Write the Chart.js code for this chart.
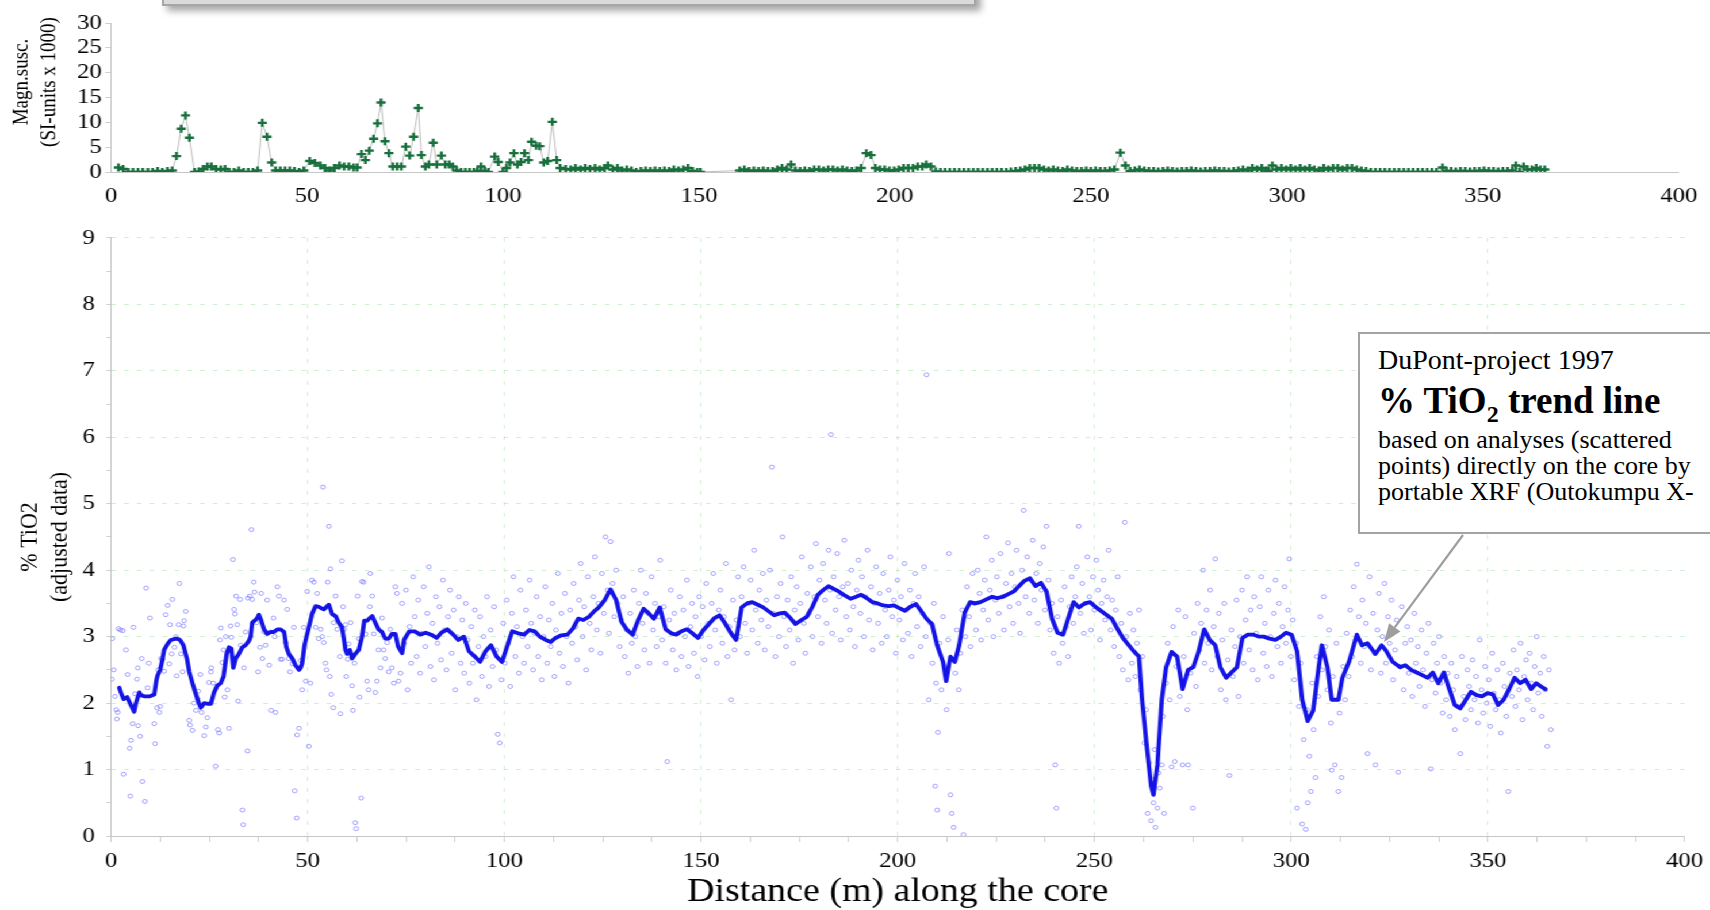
<!DOCTYPE html>
<html>
<head>
<meta charset="utf-8">
<title>DuPont-project 1997 – % TiO2 along the core</title>
<script src="https://cdn.jsdelivr.net/npm/chart.js@4.4.1/dist/chart.umd.min.js"></script>
<style>
  html, body { margin: 0; padding: 0; background: #fff; }
  body { width: 1710px; height: 910px; overflow: hidden; position: relative;
         font-family: "Liberation Serif", "Times New Roman", serif; }
  /* plot layer is drawn narrow and widened horizontally */
  #plots { position: absolute; left: 0; top: 0; width: 1487px; height: 910px;
           transform: scaleX(1.15); transform-origin: 0 0; }
  #magChart { position: absolute; left: 0; top: 0; }
  #tioChart { position: absolute; left: 0; top: 215px; }
  #topBox { position: absolute; left: 162px; top: -70px; width: 810px; height: 72px;
            background: #dadada; border: 2px solid #a6a6a6;
            box-shadow: 5px 5px 7px rgba(0,0,0,0.35); }
  #note { position: absolute; left: 1358px; top: 332px; width: 400px; height: 198px;
          background: #fff; border: 2px solid #a3a3a3; }
  #note .ln { position: absolute; left: 18px; white-space: nowrap; color: #000;
              font-size: 26px; line-height: 26px; }
  #note .head { font-size: 28px; line-height: 28px; }
  #note .big { font-weight: bold; font-size: 37px; line-height: 37px; }
  #note .sub { font-size: 24px; position: relative; top: 9px; }
  #arrow { position: absolute; left: 0; top: 0; width: 1710px; height: 910px; pointer-events: none; }
</style>
</head>
<body>
<div id="plots">
  <canvas id="magChart" width="1487" height="215"></canvas>
  <canvas id="tioChart" width="1487" height="695"></canvas>
</div>
<div id="topBox"></div>
<svg id="arrow" viewBox="0 0 1710 910">
  <line id="arrowLine" stroke="#9e9e9e" stroke-width="2.2"></line>
  <polygon id="arrowHead" fill="#9e9e9e"></polygon>
</svg>
<div id="note">
  <div class="ln head" style="top:11.5px">DuPont-project 1997</div>
  <div class="ln big" style="top:48px">% TiO<span class="sub">2</span> trend line</div>
  <div class="ln" style="top:93px">based on analyses (scattered</div>
  <div class="ln" style="top:119px">points) directly on the core by</div>
  <div class="ln" style="top:145px">portable XRF (Outokumpu X-</div>
</div>

<script>
// Magnetic susceptibility readings: [distance m, SI-units x 1000]
const magReadings = [
  [1.9,0.9],[3.1,0.6],[4.4,0],[5.6,0],[6.9,0],[8.1,0],[9.4,0],[10.6,0],[11.9,0.2],[13.1,0],[14.4,0.2],[15.6,0.3],
  [16.7,3.2],[17.9,8.7],[19.0,11.4],[20.0,6.9],[21.3,0],[22.4,0.1],[23.5,0.6],[24.6,1.1],[25.6,1.1],[26.8,0.6],
  [28.0,0.5],[29.1,0.6],[30.2,0],[31.4,0],[32.6,0.3],[33.8,0],[35.0,0],[36.2,0],[37.4,0.3],[38.6,9.9],[39.8,7.1],
  [41.0,1.9],[42.0,0.3],[43.2,0.3],[44.4,0.3],[45.6,0.3],[46.8,0.2],[48.0,0],[49.2,0.3],[50.7,2.2],[52.0,1.8],
  [53.4,1.3],[54.6,0.8],[55.8,0.3],[57.0,0.8],[58.3,1.3],[59.5,1.1],[60.7,1.1],[61.9,0.9],[62.8,0.9],[63.9,3.6],
  [64.9,2.4],[65.9,4.3],[67.0,6.7],[68.0,9.8],[68.9,14.0],[69.9,6.2],[70.9,3.8],[71.9,1.1],[73.0,1.1],[74.1,1.1],
  [75.2,5.1],[76.2,3.3],[77.2,7.1],[78.4,12.9],[79.2,3.4],[80.2,1.1],[81.1,1.5],[82.2,5.9],[83.1,1.5],[84.3,3.3],
  [85.3,1.5],[86.3,1.5],[87.2,1.1],[88.2,0.3],[89.3,0],[90.4,0],[91.5,0],[92.6,0],[93.5,0.2],[94.4,1.1],[95.4,0.2],
  [96.3,0],[97.9,3.1],[98.8,2.0],[100.0,0],[100.9,0.8],[101.8,1.9],[102.8,3.8],[103.7,1.5],[104.6,2.0],[105.5,3.8],
  [106.5,2.4],[107.3,6.1],[108.5,5.3],[109.4,5.2],[110.4,1.9],[111.4,2.2],[112.6,10.1],[113.7,2.4],[114.6,0.8],
  [116.0,0.6],[117.3,0.5],[118.5,0.8],[119.8,0.5],[121.0,0.8],[122.2,0.6],[123.5,0.8],[124.7,0.5],[125.9,0.8],
  [126.8,1.3],[128.0,0.5],[129.2,0.8],[130.4,0.3],[131.6,0.5],[132.8,0.3],[134.0,0],[135.2,0.2],[136.4,0.3],
  [137.6,0.2],[138.8,0.3],[140.0,0.2],[141.2,0.3],[142.4,0.2],[143.6,0.5],[144.8,0.3],[146.0,0.5],[147.2,0.8],
  [148.4,0.2],[149.6,0],[150.4,0],
  [160.4,0.3],[161.6,0.5],[162.8,0.2],[164.0,0.3],[165.2,0.2],[166.4,0.3],[167.6,0.2],[168.8,0.2],[170.0,0.5],
  [171.2,0.8],[172.4,0.5],[173.5,1.5],[174.6,0.3],[175.8,0.2],[177.0,0.3],[178.2,0.2],[179.4,0.5],[180.6,0.5],
  [181.8,0.3],[183.0,0.5],[184.2,0.5],[185.4,0.3],[186.6,0.5],[187.8,0.3],[189.0,0.2],[190.2,0.3],[191.4,0.8],
  [192.7,3.8],[193.9,3.4],[195.0,0.8],[196.2,0.5],[197.4,0.5],[198.6,0.3],[199.8,0.3],[201.0,0.5],[202.2,0.8],
  [203.4,0.8],[204.6,0.8],[205.8,1.1],[207.0,1.1],[208.0,1.5],[209.2,1.1],[210.4,0.1],[211.6,0],[212.8,0],[214.0,0],
  [215.2,0],[216.4,0],[217.6,0],[218.8,0],[220.0,0],[221.2,0],[222.4,0],[223.6,0],[224.8,0],[226.0,0],[227.2,0],
  [228.4,0],[229.6,0.1],[230.8,0.2],[232.0,0.3],[233.2,0.5],[234.4,0.8],[235.6,0.8],[236.8,0.8],[238.0,0.5],
  [239.2,0.3],[240.4,0.5],[241.6,0.3],[242.8,0.2],[244.0,0.5],[245.2,0.3],[246.4,0.2],[247.6,0.2],[248.8,0.3],
  [250.0,0.2],[251.2,0.3],[252.4,0.2],[253.6,0.2],[254.8,0.3],[256.0,0.5],[257.5,3.9],[258.8,1.3],[260.0,0.2],
  [261.2,0.3],[262.4,0.5],[263.6,0.3],[264.8,0.2],[266.0,0.2],[267.2,0.1],[268.4,0.2],[269.6,0.3],[270.8,0.2],
  [272.0,0.1],[273.2,0.2],[274.4,0.2],[275.6,0.3],[276.8,0.2],[278.0,0.1],[279.2,0.2],[280.4,0.2],[281.6,0.3],
  [282.8,0.2],[284.0,0.2],[285.2,0.1],[286.4,0.2],[287.6,0.3],[288.8,0.5],[290.0,0.3],[291.2,0.8],[292.4,0.5],
  [293.6,0.8],[294.8,0.3],[295.3,0.2],[296.3,1.3],[297.4,0.5],[298.6,0.8],[299.8,0.5],[301.0,0.8],[302.2,0.5],
  [303.4,0.8],[304.6,0.5],[305.8,0.8],[307.0,0.5],[308.2,0.3],[309.4,0.8],[310.6,0.5],[311.8,0.8],[313.0,0.8],
  [314.2,0.5],[315.4,0.8],[316.6,0.8],[317.8,0.5],[319.0,0.3],[320.2,0.2],[321.4,0],[322.6,0],[323.8,0],[325.0,0],
  [326.2,0],[327.4,0],[328.6,0],[329.8,0],[331.0,0],[332.2,0],[333.4,0],[334.6,0],[335.8,0],[337.0,0],[338.2,0],
  [339.7,0.9],[340.7,0.2],[341.9,0.2],[343.1,0.1],[344.3,0.2],[345.5,0.2],[346.7,0.1],[347.9,0.2],[349.1,0.2],
  [350.3,0.3],[351.5,0.2],[352.7,0.2],[353.9,0.1],[355.1,0.2],[356.3,0.2],[357.5,0.3],[358.4,1.3],[359.4,0],
  [360.4,1.1],[361.4,0.5],[362.5,0.5],[363.6,0.8],[364.7,0.5],[365.8,0.5]
];

// Running-mean trend of % TiO2: [distance m, % TiO2]
const tio2Trend = [
  [2.1,2.23],[2.7,2.13],[3.2,2.06],[4.1,2.09],[4.9,1.99],[5.9,1.87],[6.3,1.99],[7.2,2.16],[7.6,2.12],[8.6,2.1],
  [9.7,2.1],[11.0,2.13],[11.5,2.33],[11.8,2.41],[12.5,2.5],[13.1,2.66],[13.5,2.8],[14.4,2.89],[15.2,2.95],
  [16.5,2.97],[17.3,2.96],[17.8,2.93],[18.4,2.87],[19.3,2.67],[19.9,2.47],[20.7,2.3],[21.6,2.13],[22.4,1.99],
  [22.8,1.93],[23.7,2.0],[24.5,1.99],[25.4,1.99],[26.2,2.16],[27.0,2.26],[27.9,2.3],[28.6,2.4],[29.4,2.74],
  [30.0,2.84],[30.6,2.82],[31.1,2.53],[31.7,2.67],[32.5,2.74],[33.4,2.84],[34.2,2.87],[35.1,2.94],[35.5,3.0],
  [35.9,3.21],[36.5,3.24],[37.2,3.28],[37.6,3.33],[38.2,3.24],[38.9,3.11],[39.7,3.04],[40.6,3.07],[41.4,3.07],
  [42.3,3.11],[43.1,3.11],[44.0,3.07],[44.6,2.84],[45.2,2.74],[46.1,2.67],[46.9,2.57],[47.8,2.5],[48.2,2.53],
  [48.6,2.6],[49.2,2.87],[49.7,3.0],[50.3,3.14],[51.1,3.34],[52.0,3.46],[52.8,3.45],[53.4,3.43],[54.1,3.41],
  [54.8,3.45],[55.4,3.48],[56.2,3.34],[57.1,3.31],[57.9,3.21],[58.7,3.14],[59.2,2.97],[59.6,2.8],[60.0,2.74],
  [60.7,2.8],[61.3,2.67],[62.1,2.74],[63.0,2.8],[63.8,3.0],[64.4,3.24],[65.1,3.24],[65.8,3.28],[66.4,3.31],
  [67.2,3.21],[68.0,3.11],[68.9,3.07],[69.7,2.97],[70.6,2.97],[71.4,3.04],[72.3,3.04],[73.0,2.85],[74.0,2.75],
  [74.5,2.95],[75.8,3.08],[77.2,3.08],[78.6,3.03],[80.0,3.06],[81.4,3.03],[82.8,2.98],[84.0,3.06],[85.5,3.11],
  [87.0,3.03],[88.3,2.95],[89.7,3.0],[91.0,2.78],[92.5,2.7],[93.8,2.62],[95.2,2.78],[96.6,2.87],[98.0,2.7],
  [99.4,2.62],[100.8,2.87],[102.0,3.08],[103.5,3.05],[105.0,3.03],[106.4,3.1],[107.7,3.08],[109.0,3.0],
  [110.5,2.95],[111.8,2.92],[113.0,2.98],[114.5,3.02],[116.0,3.03],[117.4,3.12],[118.8,3.27],[120.1,3.25],
  [121.5,3.3],[122.8,3.38],[124.0,3.44],[125.5,3.55],[127.0,3.71],[128.4,3.55],[129.8,3.22],[131.2,3.1],
  [132.6,3.03],[134.0,3.25],[135.4,3.42],[136.7,3.35],[138.0,3.27],[139.5,3.44],[141.0,3.11],[142.4,3.05],
  [143.7,3.03],[145.0,3.08],[146.4,3.11],[147.8,3.05],[149.2,2.98],[150.6,3.1],[152.0,3.19],[153.4,3.28],
  [154.7,3.32],[156.1,3.2],[157.5,3.06],[158.9,2.95],[160.3,3.44],[161.7,3.5],[163.0,3.52],[164.4,3.48],
  [165.8,3.44],[167.2,3.38],[168.6,3.32],[170.0,3.35],[171.3,3.36],[172.7,3.28],[174.0,3.19],[175.5,3.25],
  [176.9,3.3],[178.3,3.45],[179.7,3.63],[181.0,3.7],[182.4,3.76],[183.7,3.72],[185.0,3.68],[186.5,3.62],
  [188.0,3.57],[189.4,3.6],[190.7,3.63],[192.1,3.58],[193.5,3.52],[194.9,3.5],[196.3,3.47],[197.7,3.46],
  [199.0,3.47],[200.4,3.43],[201.8,3.39],[203.2,3.45],[204.6,3.49],[206.0,3.38],[207.3,3.27],[208.7,3.19],
  [210.0,2.87],[211.5,2.62],[212.3,2.33],[213.4,2.7],[214.5,2.62],[215.6,2.87],[217.0,3.36],[218.4,3.52],
  [219.7,3.5],[221.0,3.52],[222.5,3.56],[224.0,3.6],[225.3,3.58],[226.7,3.6],[228.1,3.64],[229.5,3.68],
  [230.8,3.76],[232.2,3.84],[233.6,3.88],[235.0,3.76],[236.4,3.81],[237.8,3.68],[239.2,3.27],[240.6,3.06],
  [242.0,3.03],[243.3,3.27],[244.7,3.52],[246.0,3.44],[247.5,3.5],[248.9,3.52],[250.2,3.45],[251.6,3.39],
  [253.0,3.33],[254.4,3.27],[255.8,3.12],[257.2,2.98],[258.6,2.88],[260.0,2.78],[261.3,2.7],[262.1,2.05],
  [263.2,1.4],[264.4,0.75],[265.0,0.62],[266.0,1.07],[267.1,2.05],[268.2,2.54],[269.6,2.77],[271.0,2.7],
  [272.4,2.21],[273.8,2.5],[275.1,2.54],[276.5,2.78],[277.9,3.11],[279.3,2.95],[280.7,2.87],[282.0,2.54],
  [283.5,2.38],[284.8,2.46],[286.2,2.54],[287.6,2.98],[289.0,3.03],[290.4,3.03],[291.7,3.0],[293.0,3.0],
  [294.5,2.97],[296.0,2.95],[297.4,3.0],[298.7,3.06],[300.1,3.03],[301.5,2.78],[302.8,2.05],[304.2,1.73],
  [305.6,1.89],[307.0,2.54],[307.8,2.87],[309.2,2.54],[310.3,2.05],[312.0,2.05],[313.0,2.38],[314.7,2.62],
  [316.7,3.03],[318.0,2.87],[319.4,2.9],[321.4,2.74],[323.0,2.87],[324.1,2.79],[325.8,2.62],[327.7,2.54],
  [329.0,2.57],[330.5,2.5],[331.9,2.46],[333.3,2.42],[334.7,2.38],[336.0,2.46],[337.4,2.3],[338.8,2.46],
  [340.2,2.21],[341.6,1.97],[343.0,1.92],[344.4,2.05],[345.7,2.17],[347.1,2.12],[348.5,2.1],[349.9,2.15],
  [351.3,2.13],[352.6,1.97],[354.0,2.05],[355.4,2.21],[356.8,2.38],[358.2,2.3],[359.6,2.35],[361.0,2.21],
  [362.3,2.3],[363.5,2.25],[364.6,2.21]
];

// Portable XRF analyses on the core: [distance m, % TiO2]
const xrfSamples = [
  [0.3,2.97],[0.7,2.5],[0.2,2.36],[1.0,2.1],[1.35,1.9],[1.7,1.86],[1.5,1.76],[1.9,3.12],[2.4,3.1],[3.0,3.09],
  [3.2,0.93],[3.8,2.8],[4.2,2.43],[4.7,1.32],[4.9,0.6],[5.1,1.44],[5.5,1.69],[5.7,3.14],[6.1,2.14],[6.6,2.36],
  [6.8,2.53],[6.9,1.66],[7.4,1.5],[7.8,2.67],[8.0,0.82],[8.6,0.52],[8.9,3.73],[9.3,2.23],[9.6,2.6],[9.9,3.28],
  [11.0,1.69],[11.2,1.39],[11.7,1.93],[12.0,2.5],[12.3,1.86],[12.5,1.95],[12.7,2.67],[13.1,2.66],[13.5,2.48],
  [13.9,3.33],[14.4,3.47],[14.8,2.59],[15.0,3.18],[15.4,2.74],[15.6,3.56],[16.1,2.84],[16.5,3.0],[16.7,2.41],
  [17.2,3.18],[17.4,3.8],[17.8,2.74],[18.2,2.47],[18.4,3.16],[18.6,3.24],[19.0,3.38],[19.9,1.74],[20.1,1.67],
  [20.7,1.59],[21.1,2.0],[21.6,1.89],[22.0,2.06],[22.2,2.18],[22.7,2.43],[23.0,1.86],[23.7,1.51],[24.1,1.64],
  [24.5,1.78],[24.9,2.31],[25.4,2.47],[25.5,2.53],[26.0,2.3],[26.6,1.05],[27.2,1.6],[27.5,1.55],[27.7,2.95],
  [27.9,3.13],[28.3,2.61],[28.6,2.8],[28.9,2.09],[29.2,3.0],[29.6,2.2],[30.0,1.62],[30.4,3.16],[30.6,2.99],
  [31.0,4.16],[31.3,3.41],[31.5,3.34],[31.8,3.61],[32.1,3.18],[32.3,2.03],[32.8,3.56],[33.0,2.87],[33.4,0.39],
  [33.6,0.17],[33.8,2.53],[34.2,3.07],[34.7,1.28],[34.8,3.58],[35.3,3.61],[35.7,4.61],[35.9,3.56],[36.3,3.82],
  [36.5,3.67],[37.0,3.21],[37.4,2.47],[37.9,2.84],[38.2,3.65],[38.5,2.67],[38.9,3.07],[39.3,2.87],[39.7,3.55],
  [40.2,2.57],[40.4,3.07],[40.7,1.89],[41.3,3.28],[41.6,3.0],[41.8,1.86],[42.3,3.75],[42.7,3.61],[43.1,2.66],
  [43.5,2.66],[44.0,3.55],[44.4,2.91],[44.8,3.41],[45.2,2.67],[45.5,2.47],[46.1,2.59],[46.5,3.14],[46.7,0.68],
  [47.2,0.27],[47.3,1.52],[47.8,1.62],[48.2,2.64],[48.6,2.2],[49.0,3.14],[49.5,2.33],[49.9,3.68],[50.3,1.35],
  [50.7,2.3],[51.1,3.85],[51.6,3.82],[52.0,3.14],[52.4,3.65],[52.8,2.97],[53.3,3.11],[53.7,3.0],[53.9,5.25],
  [54.1,2.91],[54.5,2.6],[54.8,2.5],[55.1,3.82],[55.4,4.66],[55.6,2.4],[55.8,4.02],[56.0,2.13],[56.5,1.93],
  [56.6,3.21],[57.1,3.61],[57.5,3.11],[58.2,2.7],[58.3,1.84],[58.7,4.14],[59.0,3.45],[59.3,3.11],[59.6,3.18],
  [59.8,2.4],[60.2,2.66],[60.4,2.89],[60.9,3.21],[61.3,2.26],[61.5,1.89],[61.9,2.6],[62.1,0.2],[62.3,0.11],
  [62.7,3.61],[63.0,2.97],[63.2,2.09],[63.6,0.57],[63.8,3.83],[64.2,3.82],[64.7,3.04],[65.1,2.33],[65.5,2.2],
  [65.8,3.45],[65.9,3.95],[66.4,3.61],[66.8,3.04],[67.2,2.16],[67.6,2.33],[68.0,2.8],[68.5,2.53],[68.9,3.28],
  [69.3,2.8],[69.7,2.67],[70.2,2.91],[70.6,2.47],[71.0,3.11],[71.4,2.53],[71.9,2.3],[72.3,3.75],[72.7,3.65],
  [73.1,2.33],
  [73.6,2.45],[74.0,3.5],[74.5,2.9],[75.0,3.7],[75.4,2.2],[75.9,3.15],[76.3,2.6],[76.8,3.9],[77.2,3.3],[77.7,2.7],
  [78.1,3.55],[78.6,2.45],[79.0,3.05],[79.5,3.75],[79.9,2.85],[80.4,3.35],[80.8,4.05],[81.2,2.55],[81.7,3.2],
  [82.1,2.35],[82.6,3.6],[83.0,2.9],[83.5,3.45],[83.9,2.65],[84.4,3.85],[84.8,3.1],[85.3,2.5],[85.7,3.3],
  [86.2,3.7],[86.6,2.75],[87.1,3.4],[87.5,2.2],[88.0,3.0],[88.4,3.6],[88.9,2.6],[89.3,3.25],[89.8,2.45],
  [90.2,3.5],[90.7,2.95],[91.1,2.3],[91.6,3.15],[92.0,2.6],[92.5,3.4],[92.9,2.05],[93.4,2.85],[93.8,3.3],
  [94.3,2.4],[94.7,3.0],[95.2,2.7],[95.6,3.6],[96.1,2.25],[96.5,3.1],[97.0,2.55],[97.4,3.45],[97.9,2.8],
  [98.3,1.53],[98.8,1.4],[99.2,2.35],[99.7,3.2],[100.1,2.6],[100.6,3.55],[101.0,2.9],[101.5,2.25],[101.9,3.35],
  [102.3,3.9],[102.8,2.7],[103.2,3.15],[103.7,2.45],[104.1,3.7],[104.6,3.0],[105.0,2.6],[105.5,3.4],[105.9,2.85],
  [106.4,3.85],[106.8,3.2],[107.3,2.5],[107.7,3.05],[108.2,3.6],[108.6,2.7],[109.1,3.3],[109.5,2.35],[110.0,3.0],
  [110.4,3.75],[110.9,2.6],[111.3,3.25],[111.8,2.85],[112.2,3.5],[112.7,2.4],[113.1,3.1],[113.6,3.95],[114.0,2.75],
  [114.5,3.35],[114.9,2.55],[115.4,3.65],[115.8,3.0],[116.3,2.3],[116.7,3.4],[117.2,2.9],[117.6,3.8],[118.1,3.15],
  [118.5,2.65],[119.0,3.55],[119.4,4.1],[119.9,3.0],[120.3,3.45],[120.8,2.5],[121.2,3.9],[121.7,3.2],[122.1,2.8],
  [122.6,3.6],[123.0,4.2],[123.5,3.1],[123.9,3.5],[124.4,2.75],[124.8,3.95],[125.3,3.35],[125.7,4.5],[126.2,3.7],
  [126.6,3.05],[127.0,4.43],[127.5,3.8],[127.9,3.3],[128.4,4.0],[128.8,3.5],[129.3,2.85],[129.7,3.25],[130.2,3.6],
  [130.6,2.7],[131.1,3.1],[131.5,2.45],[132.0,3.35],[132.4,2.9],[132.9,3.7],[133.3,3.0],[133.8,2.55],[134.2,3.5],
  [134.7,4.0],[135.1,3.2],[135.6,2.8],[136.0,3.65],[136.5,3.35],[136.9,2.6],[137.4,3.9],[137.8,3.1],[138.3,3.5],
  [138.7,2.85],[139.2,3.3],[139.6,4.15],[140.1,2.95],[140.5,3.45],[141.0,2.6],[141.4,1.12],[141.9,3.25],
  [142.3,3.7],[142.8,2.8],[143.2,3.35],[143.7,2.5],[144.1,3.05],[144.6,3.6],[145.0,2.7],[145.5,3.4],[145.9,3.0],
  [146.4,3.85],[146.8,2.55],[147.3,3.15],[147.7,3.5],[148.2,2.75],[148.6,3.3],[149.1,2.4],[149.5,3.6],[150.0,3.0],
  [150.4,3.45],[150.9,2.65],[151.3,3.8],[151.8,3.2],[152.2,2.85],[152.7,3.5],[153.1,3.95],[153.6,3.1],[154.0,2.6],
  [154.5,3.4],[154.9,3.7],[155.4,2.9],[155.8,3.3],[156.3,4.1],[156.7,2.7],[157.2,3.15],[157.6,2.05],[158.1,3.55],
  [158.5,2.8],[159.0,3.25],[159.4,3.9],[159.9,3.0],[160.3,3.6],[160.8,4.05],[161.2,3.2],[161.7,2.75],[162.1,3.5],
  [162.6,3.85],[163.0,3.1],[163.5,4.3],[163.9,3.4],[164.4,2.9],[164.8,3.7],[165.3,3.25],[165.7,3.95],[166.2,2.8],
  [166.6,3.55],[167.1,3.15],[167.5,4.0],[168.0,5.55],[168.4,3.35],[168.9,2.7],[169.3,3.6],[169.8,3.0],[170.2,3.8],
  [170.7,4.5],[171.1,3.3],[171.6,2.85],[172.0,3.55],[172.5,3.1],[172.9,3.9],[173.4,2.6],[173.8,3.4],[174.3,3.75],
  [174.7,2.95],[175.2,3.5],[175.6,4.2],[176.1,3.2],[176.5,2.75],[177.0,3.65],[177.4,3.35],[177.9,4.05],[178.3,3.0],
  [178.8,3.6],[179.2,4.4],[179.7,3.3],[180.1,3.85],[180.6,2.9],[181.0,4.1],[181.5,3.55],[181.9,3.2],[182.4,4.3],
  [182.8,3.7],[183.0,6.04],[183.3,3.05],[183.7,3.9],[184.2,3.4],[184.6,4.25],[185.1,3.6],[185.5,2.95],[186.0,3.75],
  [186.4,4.45],[186.9,3.3],[187.3,3.8],[187.8,3.1],[188.2,4.0],[188.7,3.45],[189.1,2.85],[189.6,3.7],[190.0,4.15],
  [190.5,3.35],[190.9,3.9],[191.4,3.0],[191.8,3.6],[192.3,4.3],[192.7,3.25],[193.2,3.75],[193.6,2.8],[194.1,3.5],
  [194.5,4.05],[195.0,3.2],[195.4,3.65],[195.9,2.9],[196.3,3.95],[196.8,3.4],[197.2,3.0],[197.7,3.7],[198.1,4.2],
  [198.6,3.3],[199.0,3.55],[199.5,2.75],[199.9,3.85],[200.4,3.25],[200.8,3.6],[201.3,2.95],[201.7,4.1],[202.2,3.4],
  [202.6,3.05],[203.1,3.7],[203.5,2.7],[204.0,3.5],[204.4,3.95],[204.9,3.15],[205.3,3.6],[205.8,2.85],[206.2,3.35],
  [206.7,4.05],[207.1,3.0],[207.3,6.94],[207.9,2.05],[208.3,3.2],[208.8,2.6],[209.2,3.5],[209.5,0.75],[209.7,2.3],
  [210.0,0.39],[210.2,1.56],[210.6,2.9],[211.1,2.2],[211.5,3.3],[211.9,2.55],[212.4,1.9],[212.8,2.95],[213.0,4.25],
  [213.4,0.62],[213.7,0.34],[214.2,0.13],[214.6,2.45],[215.0,3.1],[215.5,2.2],[215.9,2.75],[216.4,3.4],[216.7,0.02],
  [217.2,3.0],[217.6,3.75],[218.1,3.3],[218.5,2.85],[219.0,3.95],[219.4,3.5],[219.9,3.1],[220.3,4.0],[220.8,3.65],
  [221.2,2.95],[221.7,3.4],[222.1,3.85],[222.5,4.5],[223.0,3.25],[223.4,3.7],[223.9,4.15],[224.3,3.0],[224.8,3.55],
  [225.2,3.9],[225.7,3.35],[226.1,4.25],[226.6,3.6],[227.0,3.1],[227.5,3.8],[228.0,4.41],[228.4,3.45],[228.9,3.95],
  [229.3,3.2],[229.8,3.75],[230.2,4.3],[230.7,3.5],[231.1,3.05],[231.6,4.0],[232.0,4.9],[232.5,3.6],[232.9,4.2],
  [233.4,3.35],[233.8,3.85],[234.3,4.45],[234.7,3.55],[235.2,3.95],[235.6,3.2],[236.1,4.1],[236.5,3.7],[237.0,4.35],
  [237.4,3.4],[237.8,4.66],[238.3,3.85],[238.7,3.1],[239.2,3.5],[239.6,2.75],[240.0,1.07],[240.3,0.42],[240.6,3.3],
  [241.0,2.6],[241.5,3.55],[241.9,2.9],[242.4,3.75],[242.8,3.15],[243.3,2.7],[243.7,3.45],[244.2,3.9],[244.6,3.2],
  [245.1,3.6],[245.5,4.05],[246.0,4.66],[246.4,3.35],[246.9,3.8],[247.3,3.05],[247.8,3.5],[248.2,4.2],[248.7,3.6],
  [249.1,3.1],[249.6,3.9],[250.0,3.4],[250.5,4.15],[250.9,3.7],[251.4,2.95],[251.8,3.5],[252.3,3.85],[252.7,3.25],
  [253.2,3.6],[253.6,4.3],[254.1,3.1],[254.5,3.55],[255.0,2.85],[255.4,3.4],[255.9,3.9],[256.3,2.7],[256.8,3.2],
  [257.2,2.5],[257.7,4.72],[258.1,3.0],[258.6,2.35],[259.0,3.35],[259.5,2.6],[259.9,3.1],[260.4,2.4],[260.8,2.9],
  [261.3,3.4],[261.7,2.2],[262.2,2.7],[262.7,1.4],[263.1,1.9],[263.5,0.34],[263.9,1.1],[264.4,0.23],[264.7,0.85],
  [265.0,0.5],[265.3,1.3],[265.5,0.13],[266.0,0.42],[266.3,0.95],[266.6,0.72],[267.1,1.07],[267.4,1.8],[267.7,0.34],
  [268.2,2.3],[268.6,2.9],[269.1,2.05],[269.6,1.04],[270.0,3.15],[270.4,1.12],[270.8,2.55],[271.3,3.4],[271.7,2.1],
  [272.4,1.07],[272.7,2.7],[273.1,3.3],[273.6,1.9],[273.8,1.07],[274.4,2.45],[275.0,0.42],[275.3,3.05],[275.8,2.25],
  [276.2,3.5],[276.7,2.8],[277.1,3.2],[277.6,4.0],[278.0,2.6],[278.5,3.4],[278.9,2.9],[279.4,3.7],[279.8,2.5],
  [280.3,3.15],[280.7,4.17],[281.2,2.7],[281.6,3.35],[282.1,2.2],[282.5,2.95],[283.0,3.5],[283.4,2.05],[283.9,2.65],
  [284.3,0.91],[284.8,3.1],[285.2,2.4],[285.7,2.85],[286.1,3.55],[286.6,2.1],[287.0,3.0],[287.5,3.7],[287.9,2.6],
  [288.4,3.25],[288.8,3.9],[289.3,2.8],[289.7,3.4],[290.2,2.5],[290.6,3.6],[291.1,3.05],[291.5,2.35],[292.0,3.45],
  [292.4,3.9],[292.9,2.75],[293.3,3.2],[293.8,2.55],[294.2,3.7],[294.7,3.0],[295.1,2.4],[295.6,3.35],[296.0,3.85],
  [296.5,2.85],[296.9,3.5],[297.4,2.6],[297.8,3.15],[298.3,3.75],[298.7,2.9],[299.2,3.4],[299.5,4.17],[299.9,2.7],
  [300.4,3.25],[300.8,2.35],[301.3,2.9],[301.5,0.42],[302.0,1.95],[302.4,2.6],[302.8,0.18],[303.2,1.45],[303.7,0.1],
  [304.0,1.9],[304.2,0.5],[304.6,1.2],[305.0,0.67],[305.3,2.3],[305.7,1.6],[306.2,0.88],[306.5,2.7],[306.9,2.1],
  [307.4,3.3],[307.8,2.5],[308.3,3.6],[308.7,2.85],[309.2,2.2],[309.6,3.1],[310.1,1.7],[310.3,0.99],[310.6,2.4],
  [311.1,1.07],[311.5,2.9],[312.0,0.67],[312.3,1.85],[312.8,0.88],[313.2,2.55],[313.7,2.05],[314.1,3.05],
  [314.6,2.4],[315.0,3.4],[315.5,2.7],[315.9,3.75],[316.4,2.95],[316.7,4.09],[317.2,3.3],[317.7,2.6],[318.1,3.55],
  [318.6,2.85],[319.0,3.2],[319.4,1.24],[319.9,3.9],[320.3,2.5],[320.8,3.35],[321.2,2.75],[321.4,1.07],[321.9,3.1],
  [322.3,3.65],[322.8,2.45],[323.2,3.0],[323.7,3.8],[324.1,2.6],[324.6,3.3],[325.0,2.9],[325.5,3.55],[325.9,2.35],
  [326.4,2.8],[326.8,3.25],[327.2,0.96],[327.7,2.55],[328.1,3.45],[328.6,2.2],[329.0,2.9],[329.5,3.15],[329.9,2.45],
  [330.4,2.95],[330.8,2.1],[331.3,3.35],[331.7,2.6],[332.2,2.85],[332.6,2.25],[333.1,3.1],[333.5,2.5],[334.0,1.95],
  [334.4,2.75],[334.9,3.2],[335.5,1.01],[335.8,2.35],[336.2,2.9],[336.7,2.15],[337.1,2.6],[337.6,3.0],[338.0,2.3],
  [338.5,1.85],[338.9,2.7],[339.4,2.05],[339.8,2.45],[340.3,1.8],[340.7,2.6],[341.2,2.2],[341.6,1.6],[342.1,2.4],
  [342.5,1.95],[343.0,1.24],[343.4,2.7],[343.9,2.1],[344.3,1.75],[344.8,2.5],[345.2,2.25],[345.7,1.9],[346.1,2.65],
  [346.6,2.05],[347.0,2.4],[347.5,1.7],[347.9,2.95],[348.4,2.2],[348.8,1.85],[349.3,2.55],[349.7,2.0],[350.2,2.35],
  [350.6,1.65],[351.1,2.75],[351.5,2.15],[352.0,1.9],[352.4,2.5],[352.9,2.05],[353.3,1.55],[353.8,2.6],[354.2,2.25],
  [354.7,1.8],[355.2,0.67],[355.6,2.45],[356.1,2.1],[356.5,2.8],[357.0,1.95],[357.4,2.5],[357.9,2.2],[358.3,2.9],
  [358.8,1.75],[359.2,2.4],[359.7,2.65],[360.1,2.05],[360.6,2.75],[361.0,2.3],[361.5,1.9],[361.9,2.55],[362.4,3.0],
  [362.8,2.15],[363.3,2.45],[363.7,1.8],[364.2,2.7],[364.6,2.2],[365.1,1.35],[365.5,2.5],[366.0,1.6]
];

// Axis ranges
const distanceRange = [0, 400];
const magRange = [0, 30];
const tio2Range = [0, 9];
// Caption of the susceptibility strip (two rotated lines)
const magCaption = ['Magn.susc.', '(SI-units x 1000)'];
// Point on the trend line the note's arrow points to: [distance m, % TiO2]
const noteTarget = [323.6, 2.92];

const STRETCH = 1.15;          // horizontal widening of the plot layer
const AXIS_LEFT = 96.52;       // width reserved for the y axes
const RIGHT_PAD = 19.17;
const TOP_CANVAS_H = 215;
const serif = "'Liberation Serif', 'Times New Roman', serif";

Chart.defaults.font.family = serif;
Chart.defaults.color = '#000';

const toXY = pairs => pairs.map(p => ({ x: p[0], y: p[1] }));
const clear = 'rgba(0,0,0,0)';
const axisGray = '#c6c6c6';
const gridGreen = 'rgba(150,220,150,0.45)';
const tickFont = { size: 21.5 };

// Rotated two-line caption at the left of the susceptibility strip
const stripCaption = {
  id: 'stripCaption',
  afterDraw(chart) {
    const ctx = chart.ctx;
    const xs = [19.1, 42.6];
    const cy = 82;
    ctx.save();
    ctx.fillStyle = '#000';
    ctx.font = '19px ' + serif;
    ctx.textAlign = 'center';
    ctx.textBaseline = 'middle';
    magCaption.forEach((text, i) => {
      ctx.save();
      ctx.translate(xs[i], cy);
      ctx.rotate(-Math.PI / 2);
      ctx.fillText(text, 0, 0);
      ctx.restore();
    });
    ctx.restore();
  }
};

// Magnetic susceptibility strip
const magChart = new Chart(document.getElementById('magChart'), {
  type: 'scatter',
  data: {
    datasets: [{
      data: toXY(magReadings),
      showLine: true,
      borderColor: '#bdbdbd',
      borderWidth: 1,
      pointStyle: 'cross',
      pointRadius: 4,
      pointBorderWidth: 2.4,
      pointBorderColor: '#17703c',
      pointBackgroundColor: '#17703c'
    }]
  },
  options: {
    responsive: false,
    animation: false,
    events: [],
    layout: { padding: { top: 23, right: RIGHT_PAD, left: 0, bottom: 0 } },
    plugins: { legend: { display: false }, tooltip: { enabled: false } },
    scales: {
      x: {
        type: 'linear', min: distanceRange[0], max: distanceRange[1],
        ticks: { stepSize: 50, autoSkip: false, padding: 11, maxRotation: 0, font: tickFont, color: '#000' },
        grid: { display: false, drawTicks: false },
        border: { display: true, color: axisGray, width: 1 },
        afterFit(s) { s.height = TOP_CANVAS_H - 172; }
      },
      y: {
        type: 'linear', min: magRange[0], max: magRange[1],
        ticks: { stepSize: 5, autoSkip: false, padding: 3, font: tickFont, color: '#000' },
        grid: { drawOnChartArea: false, tickLength: 5, tickColor: '#cfcfcf' },
        border: { display: true, color: axisGray, width: 1 },
        afterFit(s) { s.width = AXIS_LEFT; }
      }
    }
  },
  plugins: [stripCaption]
});

// % TiO2 plot: trend line over the individual analyses
const tioChart = new Chart(document.getElementById('tioChart'), {
  type: 'scatter',
  data: {
    datasets: [
      {
        label: 'trend',
        data: toXY(tio2Trend),
        showLine: true,
        borderColor: '#1414e6',
        borderWidth: 3.8,
        borderJoinStyle: 'round',
        borderCapStyle: 'round',
        pointRadius: 0
      },
      {
        label: 'XRF',
        data: toXY(xrfSamples),
        showLine: false,
        pointStyle: 'circle',
        pointRadius: 2,
        pointBorderWidth: 0.9,
        pointBorderColor: 'rgba(110,110,255,0.7)',
        pointBackgroundColor: clear
      }
    ]
  },
  options: {
    responsive: false,
    animation: false,
    events: [],
    layout: { padding: { top: 17, right: RIGHT_PAD, left: 0, bottom: 0 } },
    plugins: { legend: { display: false }, tooltip: { enabled: false } },
    scales: {
      x: {
        type: 'linear', min: distanceRange[0], max: distanceRange[1],
        ticks: {
          stepSize: 12.5, autoSkip: false, maxRotation: 0, padding: 6,
          font: tickFont, color: '#000',
          callback: v => (v % 50 === 0 ? v : '')
        },
        grid: {
          color: c => (c.tick && c.tick.value % 50 === 0 && c.tick.value > 0 && c.tick.value < 400) ? gridGreen : clear,
          tickColor: '#cfcfcf', tickLength: 6, lineWidth: 1
        },
        border: { display: true, color: axisGray, width: 1, dash: [4, 7] },
        title: {
          display: true, text: 'Distance (m) along the core',
          font: { size: 33, lineHeight: 1 }, color: '#000', padding: { top: 0, bottom: 1 }
        },
        afterFit(s) { s.height = 74; }
      },
      y: {
        type: 'linear', min: tio2Range[0], max: tio2Range[1],
        ticks: {
          stepSize: 0.5, autoSkip: false, padding: 10, font: tickFont, color: '#000',
          callback: v => (Number.isInteger(v) ? v : '')
        },
        grid: {
          color: c => (c.tick && Number.isInteger(c.tick.value) && c.tick.value > 0) ? gridGreen : clear,
          tickColor: '#cfcfcf', tickLength: 4, lineWidth: 1
        },
        border: { display: true, color: axisGray, width: 1, dash: [4, 7] },
        title: {
          display: true, text: ['% TiO2', '(adjusted data)'],
          font: { size: 22, lineHeight: 1.186 }, color: '#000', padding: { top: 13, bottom: 0 }
        },
        afterFit(s) { s.width = AXIS_LEFT; }
      }
    }
  }
});

// Arrow from the note to the trend line, placed through the chart's scales
(function drawArrow() {
  const tipX = STRETCH * tioChart.scales.x.getPixelForValue(noteTarget[0]);
  const tipY = TOP_CANVAS_H + tioChart.scales.y.getPixelForValue(noteTarget[1]);
  const startX = 1463, startY = 535;
  const dx = tipX - startX, dy = tipY - startY;
  const len = Math.hypot(dx, dy);
  const ux = dx / len, uy = dy / len;
  const headLen = 18, headHalf = 7;
  const baseX = tipX - ux * headLen, baseY = tipY - uy * headLen;
  const line = document.getElementById('arrowLine');
  line.setAttribute('x1', startX); line.setAttribute('y1', startY);
  line.setAttribute('x2', baseX); line.setAttribute('y2', baseY);
  const pts = [
    [tipX, tipY],
    [baseX - uy * headHalf, baseY + ux * headHalf],
    [baseX + uy * headHalf, baseY - ux * headHalf]
  ].map(p => p[0].toFixed(1) + ',' + p[1].toFixed(1)).join(' ');
  document.getElementById('arrowHead').setAttribute('points', pts);
})();
</script>
</body>
</html>
